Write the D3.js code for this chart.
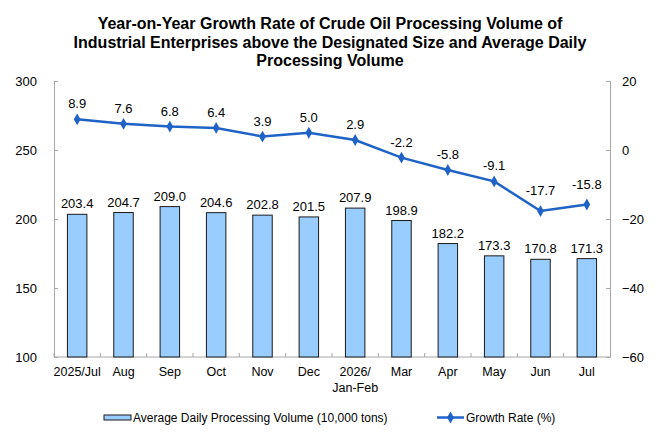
<!DOCTYPE html>
<html>
<head>
<meta charset="utf-8">
<script src="https://cdn.jsdelivr.net/npm/d3@7"></script>
<style>
  body { margin: 0; background: #fff; }
  text { font-family: Arial, "Liberation Sans", sans-serif; fill: #000; }
</style>
</head>
<body>
<div id="chart"></div>
<script>
// data
var months = ["2025/Jul", "Aug", "Sep", "Oct", "Nov", "Dec", "2026/\nJan-Feb", "Mar", "Apr", "May", "Jun", "Jul"];
var volume = [203.4, 204.7, 209.0, 204.6, 202.8, 201.5, 207.9, 198.9, 182.2, 173.3, 170.8, 171.3];
var growth = [8.9, 7.6, 6.8, 6.4, 3.9, 5.0, 2.9, -2.2, -5.8, -9.1, -17.7, -15.8];
var leftTicks = [100, 150, 200, 250, 300];
var rightTicks = [-60, -40, -20, 0, 20];
var titleLines = ["Year-on-Year Growth Rate of Crude Oil Processing Volume of",
    "Industrial Enterprises above the Designated Size and Average Daily",
    "Processing Volume"];

var W = 660, H = 440;
var margin = { top: 81, right: 50, bottom: 83, left: 54 },
    width = W - margin.left - margin.right,
    height = H - margin.top - margin.bottom;

var barColor = "#99ccff", lineColor = "#1f63c6", axisColor = "#a6a6a6";

var svgRoot = d3.select("#chart")
    .append("svg")
    .attr("width", W)
    .attr("height", H);

// title
svgRoot.append("g").selectAll("text")
    .data(titleLines)
    .enter()
    .append("text")
    .attr("x", W / 2)
    .attr("y", function (d, i) { return 29 + i * 18.5; })
    .attr("text-anchor", "middle")
    .style("font-size", "16px")
    .style("font-weight", "bold")
    .text(function (d) { return d; });

var svg = svgRoot.append("g")
    .attr("transform", "translate(" + margin.left + "," + margin.top + ")");

// scales
var x = d3.scaleBand()
    .domain(months)
    .range([0, width]);

var yL = d3.scaleLinear()
    .domain([100, 300])
    .range([height, 0]);

var yR = d3.scaleLinear()
    .domain([-60, 20])
    .range([height, 0]);

// left axis
var leftAxis = svg.append("g")
    .call(d3.axisLeft(yL).tickValues(leftTicks).tickSize(-4).tickPadding(17));
// right axis
var rightAxis = svg.append("g")
    .attr("transform", "translate(" + width + ",0)")
    .call(d3.axisRight(yR).tickValues(rightTicks).tickSize(-4).tickPadding(12));

[leftAxis, rightAxis].forEach(function (a) {
    a.select(".domain").attr("stroke", axisColor);
    a.selectAll(".tick line").attr("stroke", axisColor);
    a.selectAll(".tick text").style("font-size", "13px").attr("fill", "#000")
        .style("font-family", "Arial, 'Liberation Sans', sans-serif");
});

// bottom axis line + boundary ticks
svg.append("line")
    .attr("x1", 0).attr("x2", width)
    .attr("y1", height).attr("y2", height)
    .attr("stroke", axisColor);

svg.append("g").selectAll("line")
    .data(months)
    .enter()
    .append("line")
    .attr("x1", function (d) { return x(d); })
    .attr("x2", function (d) { return x(d); })
    .attr("y1", height)
    .attr("y2", height - 4)
    .attr("stroke", axisColor);

// category labels (two lines for Jan-Feb)
var cat = svg.append("g").selectAll("text")
    .data(months)
    .enter()
    .append("text")
    .attr("text-anchor", "middle")
    .style("font-size", "12.5px")
    .attr("transform", function (d) { return "translate(" + (x(d) + x.bandwidth() / 2) + "," + (height + 19) + ")"; });

cat.selectAll("tspan")
    .data(function (d) { return d.split("\n"); })
    .enter()
    .append("tspan")
    .attr("x", 0)
    .attr("dy", function (d, i) { return i ? 16 : 0; })
    .text(function (d) { return d; });

// bars
var barW = x.bandwidth() * 0.42;
svg.append("g").selectAll("rect")
    .data(volume)
    .enter()
    .append("rect")
    .attr("x", function (d, i) { return x(months[i]) + (x.bandwidth() - barW) / 2; })
    .attr("y", function (d) { return yL(d); })
    .attr("width", barW)
    .attr("height", function (d) { return height - yL(d); })
    .attr("fill", barColor)
    .attr("stroke", "#1a1a1a")
    .attr("stroke-width", 1);

svg.append("g").selectAll("text")
    .data(volume)
    .enter()
    .append("text")
    .attr("x", function (d, i) { return x(months[i]) + x.bandwidth() / 2; })
    .attr("y", function (d) { return yL(d) - 6; })
    .attr("text-anchor", "middle")
    .style("font-size", "13px")
    .text(function (d) { return d.toFixed(1); });

// growth line
var line = d3.line()
    .x(function (d, i) { return x(months[i]) + x.bandwidth() / 2; })
    .y(function (d) { return yR(d); });

svg.append("path")
    .datum(growth)
    .attr("d", line)
    .attr("fill", "none")
    .attr("stroke", lineColor)
    .attr("stroke-width", 2.5);

var diamond = d3.symbol().type(d3.symbolDiamond).size(40);
svg.append("g").selectAll("path")
    .data(growth)
    .enter()
    .append("path")
    .attr("d", diamond)
    .attr("fill", lineColor)
    .attr("transform", function (d, i) {
        return "translate(" + (x(months[i]) + x.bandwidth() / 2) + "," + yR(d) + ")";
    });

svg.append("g").selectAll("text")
    .data(growth)
    .enter()
    .append("text")
    .attr("x", function (d, i) { return x(months[i]) + x.bandwidth() / 2; })
    .attr("y", function (d) { return yR(d) - (d < -15 ? 16 : 11); })
    .attr("text-anchor", "middle")
    .style("font-size", "13px")
    .text(function (d) { return d.toFixed(1); });

// legend
var legend = svgRoot.append("g");
legend.append("rect")
    .attr("x", 104).attr("y", 415)
    .attr("width", 27).attr("height", 5)
    .attr("fill", barColor)
    .attr("stroke", "#1a1a1a");
legend.append("text")
    .attr("x", 133).attr("y", 422)
    .style("font-size", "12px")
    .text("Average Daily Processing Volume (10,000 tons)");

legend.append("line")
    .attr("x1", 437).attr("x2", 464)
    .attr("y1", 417.5).attr("y2", 417.5)
    .attr("stroke", lineColor)
    .attr("stroke-width", 2.5);
legend.append("path")
    .attr("d", diamond)
    .attr("fill", lineColor)
    .attr("transform", "translate(450.5,417.5)");
legend.append("text")
    .attr("x", 466).attr("y", 422)
    .style("font-size", "12px")
    .text("Growth Rate (%)");
</script>
</body>
</html>
